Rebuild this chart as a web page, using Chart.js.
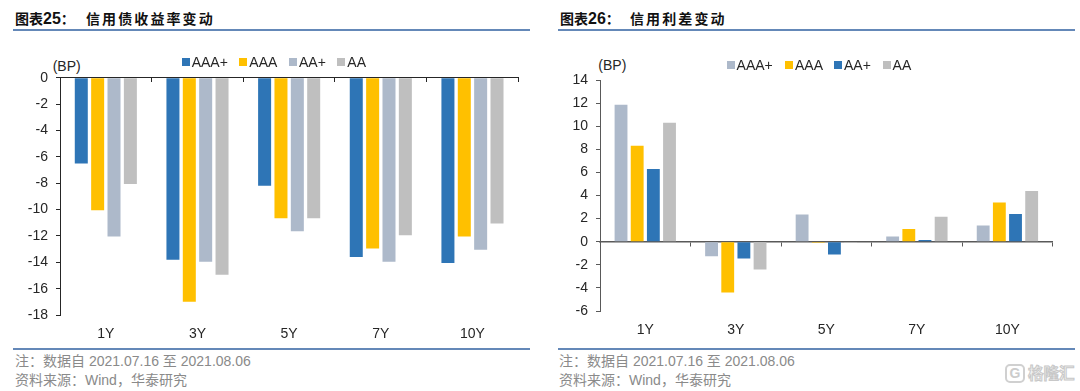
<!DOCTYPE html>
<html lang="zh"><head><meta charset="utf-8">
<script src="https://cdn.jsdelivr.net/npm/chart.js@4"></script>
<style>
html,body{margin:0;padding:0;background:#fff;width:1080px;height:391px;overflow:hidden}
body{position:relative;font-family:"Liberation Sans","Noto Sans CJK SC",sans-serif}
canvas{position:absolute}
.abs{position:absolute;white-space:nowrap;line-height:1}
.title{font-weight:700;color:#111;font-size:14px}
.title b{font-size:16px;line-height:14px}
.spaced{letter-spacing:2.1px}
.rule{position:absolute;height:2px;background:#6488b8}
.note{font-size:14px;color:#8a8a8a}
.unit,.leg{font-size:14px;color:#262626}
.sw{position:absolute;width:8px;height:8px}
.wm{font-size:15.5px;font-weight:700;color:#f2f2f2;-webkit-text-stroke:1px #c8c8c8}
.wmbox{position:absolute;box-sizing:border-box;border:2px solid #d0d0d0;border-radius:5px;width:20px;height:19px;color:#cccccc;font-size:14px;font-weight:700;text-align:center;line-height:15px}
</style></head><body>
<div class="abs title" style="left:15px;top:12px">图表<b>25</b>：</div>
<div class="abs title spaced" style="left:86px;top:12px">信用债收益率变动</div>
<div class="rule" style="left:13px;top:29px;width:517px"></div>
<div class="abs title" style="left:560px;top:12px">图表<b>26</b>：</div>
<div class="abs title spaced" style="left:630px;top:12px">信用利差变动</div>
<div class="rule" style="left:558px;top:29px;width:517px"></div>
<div class="abs unit" style="left:52.7px;top:58.7px">(BP)</div>
<div class="abs unit" style="left:598.3px;top:58px">(BP)</div>
<canvas id="c1" style="left:0;top:50px" width="540" height="295"></canvas>
<canvas id="c2" style="left:540px;top:50px" width="540" height="295"></canvas>
<div id="leg1"></div><div id="leg2"></div>
<div class="rule" style="left:13px;top:348px;width:517px"></div>
<div class="rule" style="left:558px;top:348px;width:517px"></div>
<div class="abs note" style="left:15px;top:353.5px">注：数据自 2021.07.16 至 2021.08.06</div>
<div class="abs note" style="left:15px;top:373px">资料来源：Wind，华泰研究</div>
<div class="abs note" style="left:559px;top:353.5px">注：数据自 2021.07.16 至 2021.08.06</div>
<div class="abs note" style="left:559px;top:373px">资料来源：Wind，华泰研究</div>
<div class="wmbox" style="left:1005px;top:364px">G</div>
<div class="abs wm" style="left:1028px;top:366px">格隆汇</div>
<script>
const categories = ["1Y","3Y","5Y","7Y","10Y"];

const yieldLabels = ["AAA+","AAA","AA+","AA"];
const yieldAAAplus = [-6.5,-13.8,-8.2,-13.6,-14.05];
const yieldAAA     = [-10.05,-17,-10.65,-12.95,-12.05];
const yieldAAplus  = [-12.05,-13.95,-11.65,-13.95,-13.05];
const yieldAA      = [-8.05,-14.95,-10.65,-11.95,-11.05];
const yieldColors  = ["#2E75B6","#FFC000","#ADB9CA","#BFBFBF"];

const spreadLabels = ["AAA+","AAA","AA+","AA"];
const spreadAAAplus = [11.85,-1.25,2.35,0.45,1.4];
const spreadAAA     = [8.3,-4.4,-0.1,1.1,3.4];
const spreadAAplus  = [6.3,-1.45,-1.1,0.15,2.4];
const spreadAA      = [10.3,-2.4,-0.1,2.15,4.4];
const spreadColors  = ["#ADB9CA","#FFC000","#2E75B6","#BFBFBF"];

const FONT = {family:'"Liberation Sans",sans-serif', size:14};
const INK = "#262626";

function makeChart(id, series, labels, colors, cfg){
  return new Chart(document.getElementById(id), {
    type:"bar",
    data:{labels:categories, datasets:series.map((d,i)=>({
      label:labels[i], data:d, backgroundColor:colors[i], borderWidth:0,
      categoryPercentage:.714, barPercentage:.795, xAxisID:"x", yAxisID:"y"}))},
    options:{
      responsive:false, animation:false, events:[],
      layout:{padding:{left:0,right:cfg.right,top:cfg.top,bottom:0}},
      plugins:{legend:{display:false},title:{display:false},tooltip:{enabled:false}},
      scales:{
        x:{type:"category",position:"bottom",offset:true,
           grid:{display:false},border:{display:false},
           afterFit:s=>{s.height=cfg.xh},
           ticks:{font:FONT,color:INK,padding:cfg.xpad,maxRotation:0}},
        x0:{type:"category",labels:categories,position:{y:0},offset:true,
           grid:{display:true,drawOnChartArea:false,drawTicks:true,tickLength:4,tickColor:cfg.axis,tickWidth:1},
           border:{display:true,color:cfg.axis,width:cfg.zw},
           ticks:{display:false}},
        y:{type:"linear",min:cfg.min,max:cfg.max,
           grid:{display:true,drawOnChartArea:false,drawTicks:true,tickLength:4,tickColor:cfg.axis,tickWidth:1},
           border:{display:true,color:cfg.axis,width:1},
           afterFit:s=>{s.width=cfg.yw},
           ticks:{stepSize:2,font:FONT,color:INK,padding:8}}
      }
    }
  });
}

function htmlLegend(holder, chart, boxes, top){
  const el = document.getElementById(holder);
  chart.data.datasets.forEach((ds,i)=>{
    const sw=document.createElement("div");
    sw.className="sw"; sw.style.left=boxes[i]+"px"; sw.style.top=(top+1)+"px"; sw.style.background=ds.backgroundColor;
    const t=document.createElement("div");
    t.className="abs leg"; t.style.left=(boxes[i]+10)+"px"; t.style.top=(top-2)+"px"; t.textContent=ds.label;
    el.append(sw,t);
  });
}

const c1 = makeChart("c1",[yieldAAAplus,yieldAAA,yieldAAplus,yieldAA],yieldLabels,yieldColors,
  {right:21.7,top:27.8,xh:30,xpad:3,min:-18,max:0,yw:60,axis:"#262626",zw:1});
const c2 = makeChart("c2",[spreadAAAplus,spreadAAA,spreadAAplus,spreadAA],spreadLabels,spreadColors,
  {right:27.3,top:30,xh:34,xpad:3,min:-6,max:14,yw:60,axis:"#595959",zw:1.5});
htmlLegend("leg1",c1,[181.7,239.3,289,337.3],56.7);
htmlLegend("leg2",c2,[726.6,785,834,882.6],60);
</script>
</body></html>
